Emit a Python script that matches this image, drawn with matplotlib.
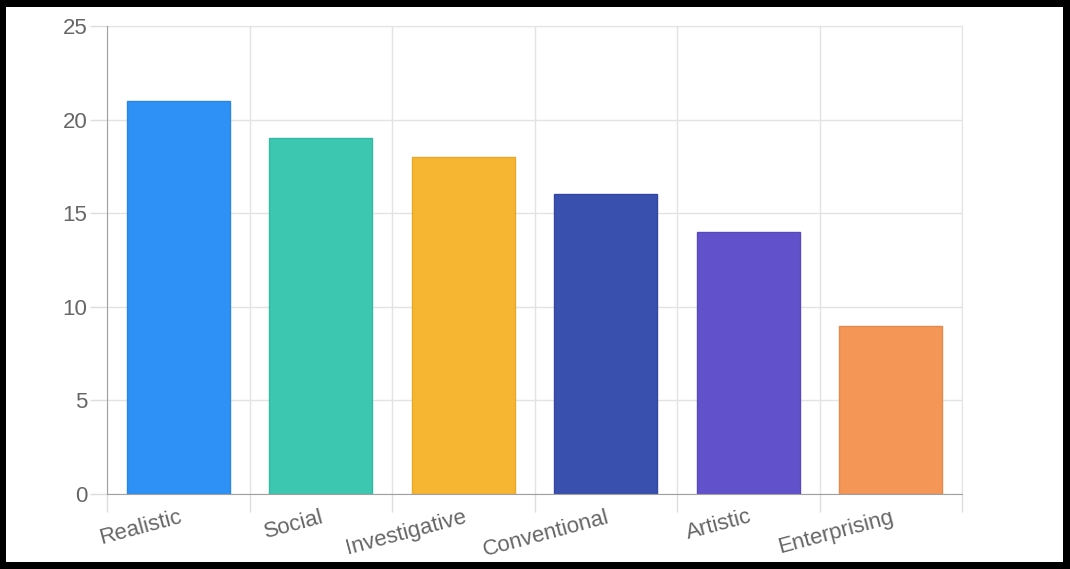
import matplotlib.pyplot as plt
from matplotlib.patches import Rectangle

categories = ["Realistic", "Social", "Investigative", "Conventional", "Artistic", "Enterprising"]
values = [21, 19, 18, 16, 14, 9]
colors = ["#2d91f5", "#3cc8b0", "#f6b631", "#3a50ae", "#6152cc", "#f49656"]
edges = ["#2a86e0", "#36b8a2", "#e8a92a", "#33479e", "#5749bd", "#e48a4c"]
yticks = [0, 5, 10, 15, 20, 25]

plt.rcParams['font.family'] = ['Liberation Sans', 'DejaVu Sans']

fig = plt.figure(figsize=(10.70, 5.69), dpi=100)
fig.patch.set_facecolor("black")
# white card inside the black frame
fig.patches.append(Rectangle((6 / 1070, 7 / 569), 1057 / 1070, 555 / 569,
                             transform=fig.transFigure, facecolor="white",
                             edgecolor="none", zorder=-5))

ax = fig.add_axes([107 / 1070, 1 - 494 / 569, 855 / 1070, 468 / 569])
ax.set_facecolor("white")

x = list(range(len(categories)))
ax.bar(x, values, width=0.72, color=colors, edgecolor=edges, linewidth=1, zorder=3)

ax.set_xlim(-0.5, len(categories) - 0.5)
ax.set_ylim(0, 25)
ax.set_yticks(yticks)

ax.set_xticks(x)
ax.set_xticklabels(categories, rotation=15, ha="right", rotation_mode="anchor")
ax.set_xticks([i - 0.5 for i in range(len(categories) + 1)], minor=True)

ax.tick_params(axis="x", which="major", length=0, pad=9, labelsize=16, labelcolor="#666666")
ax.tick_params(axis="x", which="minor", length=13, width=1, color="#dddddd")
ax.tick_params(axis="y", length=12, width=1, color="#dddddd", pad=2, labelsize=16, labelcolor="#666666")

ax.grid(True, which="minor", axis="x", color="#e3e3e3", linewidth=1, zorder=0)
ax.grid(True, which="major", axis="y", color="#e3e3e3", linewidth=1, zorder=0)

for side in ["top", "right"]:
    ax.spines[side].set_color("#e3e3e3")
for side in ["left", "bottom"]:
    ax.spines[side].set_color("#a0a0a0")
    ax.spines[side].set_zorder(4)

fig.savefig("out.png", dpi=100, facecolor=fig.get_facecolor())
